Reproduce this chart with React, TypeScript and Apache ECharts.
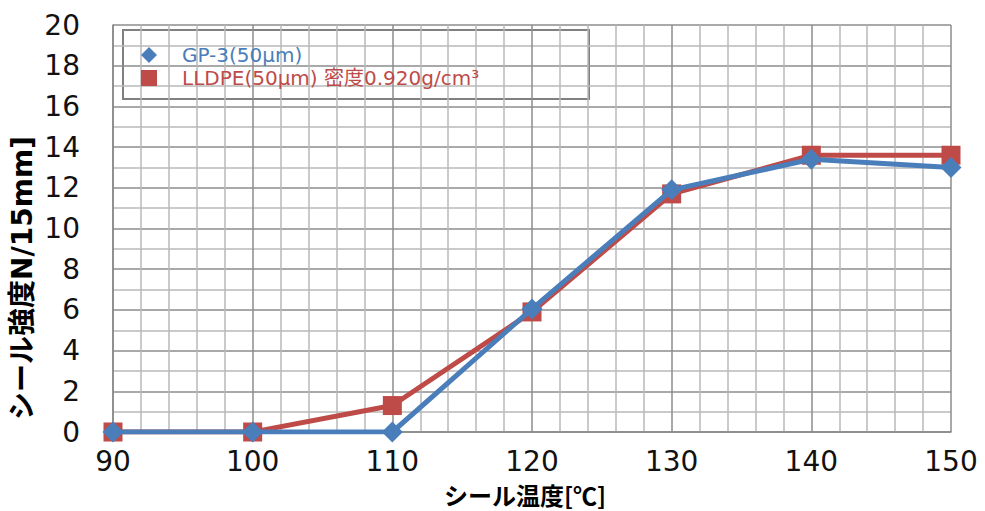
import React, { useEffect, useRef } from "react";
import * as echarts from "echarts";

const temps = [90, 100, 110, 120, 130, 140, 150];
const gp3 = [0, 0, 0, 6.05, 11.9, 13.4, 13.0];
const lldpe = [0, 0, 1.3, 5.9, 11.7, 13.6, 13.6];
const gpName = "GP-3(50μm)";
const llName = "LLDPE(50μm) 密度0.920g/cm³";
const yName = "シール強度N/15mm]";
const xName = "シール温度[℃]";

const FONT = "'DejaVu Sans', 'Noto Sans CJK JP', sans-serif";
const CJK = "'Noto Sans CJK JP', 'DejaVu Sans', sans-serif";
const BLUE = "#4a7ebb";
const RED = "#be4b48";

export default function App() {
  const ref = useRef<HTMLDivElement>(null);
  useEffect(() => {
    const chart = echarts.init(ref.current!, undefined, { renderer: "svg" });
    chart.setOption({
      animation: false,
      backgroundColor: "#ffffff",
      grid: { left: 113, top: 25, width: 838, height: 407, containLabel: false },
      xAxis: {
        type: "value",
        min: 90,
        max: 150,
        interval: 10,
        axisLine: { show: true, lineStyle: { color: "#888", width: 1.5 } },
        axisTick: { show: false },
        minorTick: { show: false, splitNumber: 5 },
        splitLine: { show: true, lineStyle: { color: "#8c8c8c", width: 1.5 } },
        minorSplitLine: { show: true, lineStyle: { color: "#b8b8b8", width: 1.5 } },
        axisLabel: { color: "#111", fontSize: 28, fontFamily: FONT, margin: 15 },
      },
      yAxis: {
        type: "value",
        min: 0,
        max: 20,
        interval: 2,
        axisLine: { show: true, lineStyle: { color: "#888", width: 1.5 } },
        axisTick: { show: false },
        minorTick: { show: false, splitNumber: 2 },
        splitLine: { show: true, lineStyle: { color: "#8c8c8c", width: 1.5 } },
        minorSplitLine: { show: true, lineStyle: { color: "#b8b8b8", width: 1.5 } },
        axisLabel: { color: "#111", fontSize: 28, fontFamily: FONT, margin: 33 },
      },
      legend: {
        orient: "vertical",
        left: 136,
        top: 40,
        itemGap: 3,
        itemWidth: 16,
        itemHeight: 16,
        data: [
          { name: gpName, icon: "diamond", textStyle: { color: BLUE } },
          { name: llName, icon: "rect", textStyle: { color: RED } },
        ],
        textStyle: { fontSize: 20, fontFamily: FONT, padding: [0, 0, 0, 20] },
      },
      graphic: [
        {
          type: "rect",
          z: 0,
          zlevel: 0,
          shape: { x: 123, y: 30, width: 466, height: 69 },
          style: { fill: "#fff", stroke: "#808080", lineWidth: 2 },
        },
        {
          type: "text",
          x: 22,
          y: 278,
          rotation: Math.PI / 2,
          style: {
            text: yName,
            font: `bold 28px 'DejaVu Sans', 'Noto Sans CJK JP', sans-serif`,
            fill: "#000",
            textAlign: "center",
            textVerticalAlign: "middle",
          },
        },
        {
          type: "text",
          x: 525,
          y: 494,
          style: {
            text: xName,
            font: `bold 24px ${CJK}`,
            fill: "#000",
            textAlign: "center",
            textVerticalAlign: "middle",
          },
        },
      ],
      series: [
        {
          name: llName,
          type: "line",
          data: temps.map((t, i) => [t, lldpe[i]]),
          symbol: "rect",
          symbolSize: 19,
          lineStyle: { color: RED, width: 5 },
          itemStyle: { color: RED },
          z: 3,
        },
        {
          name: gpName,
          type: "line",
          data: temps.map((t, i) => [t, gp3[i]]),
          symbol: "diamond",
          symbolSize: 21,
          lineStyle: { color: BLUE, width: 5 },
          itemStyle: { color: BLUE },
          z: 4,
        },
      ],
    });
    return () => chart.dispose();
  }, []);
  return <div ref={ref} style={{ width: 985, height: 511, position: "absolute", left: 0, top: 0 }} />;
}
